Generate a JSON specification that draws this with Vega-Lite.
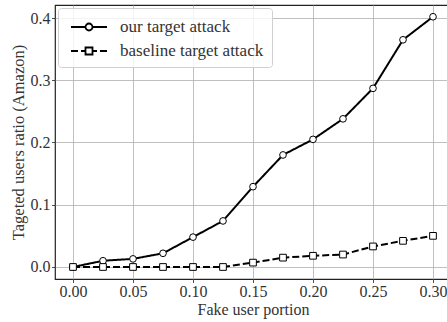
{
  "$schema": "https://vega.github.io/schema/vega-lite/v6.json",
  "autosize": "none",
  "width": 396,
  "height": 274,
  "padding": {"left": 55, "top": 5, "right": 0, "bottom": 43},
  "background": "white",
  "config": {
    "view": {"stroke": "#222", "strokeWidth": 1.2},
    "font": "Liberation Serif",
    "axis": {
      "labelFont": "Liberation Serif",
      "titleFont": "Liberation Serif",
      "labelFontSize": 16,
      "titleFontSize": 16.5,
      "titleFontWeight": "normal",
      "labelColor": "#333",
      "titleColor": "#333",
      "gridColor": "#b0b0b0",
      "gridWidth": 0.8,
      "domain": false,
      "tickColor": "#222",
      "tickSize": 3.5,
      "tickWidth": 0.8
    }
  },
  "data": {
    "values": [
      {"x": 0.0, "y": 0.0, "series": "our target attack"},
      {"x": 0.025, "y": 0.010, "series": "our target attack"},
      {"x": 0.05, "y": 0.013, "series": "our target attack"},
      {"x": 0.075, "y": 0.022, "series": "our target attack"},
      {"x": 0.1, "y": 0.048, "series": "our target attack"},
      {"x": 0.125, "y": 0.074, "series": "our target attack"},
      {"x": 0.15, "y": 0.129, "series": "our target attack"},
      {"x": 0.175, "y": 0.180, "series": "our target attack"},
      {"x": 0.2, "y": 0.205, "series": "our target attack"},
      {"x": 0.225, "y": 0.238, "series": "our target attack"},
      {"x": 0.25, "y": 0.287, "series": "our target attack"},
      {"x": 0.275, "y": 0.365, "series": "our target attack"},
      {"x": 0.3, "y": 0.402, "series": "our target attack"},
      {"x": 0.0, "y": 0.0, "series": "baseline target attack"},
      {"x": 0.025, "y": 0.0, "series": "baseline target attack"},
      {"x": 0.05, "y": 0.0, "series": "baseline target attack"},
      {"x": 0.075, "y": 0.0, "series": "baseline target attack"},
      {"x": 0.1, "y": 0.0, "series": "baseline target attack"},
      {"x": 0.125, "y": 0.0, "series": "baseline target attack"},
      {"x": 0.15, "y": 0.007, "series": "baseline target attack"},
      {"x": 0.175, "y": 0.015, "series": "baseline target attack"},
      {"x": 0.2, "y": 0.018, "series": "baseline target attack"},
      {"x": 0.225, "y": 0.020, "series": "baseline target attack"},
      {"x": 0.25, "y": 0.033, "series": "baseline target attack"},
      {"x": 0.275, "y": 0.042, "series": "baseline target attack"},
      {"x": 0.3, "y": 0.050, "series": "baseline target attack"}
    ]
  },
  "encoding": {
    "x": {
      "field": "x", "type": "quantitative",
      "scale": {"domain": [-0.015, 0.315], "nice": false, "zero": false},
      "axis": {"values": [0, 0.05, 0.1, 0.15, 0.2, 0.25, 0.3], "format": ".2f", "title": "Fake user portion", "labelPadding": 1, "titlePadding": 2, "titleFontSize": 16}
    },
    "y": {
      "field": "y", "type": "quantitative",
      "scale": {"domain": [-0.0193, 0.4209], "nice": false, "zero": false},
      "axis": {"values": [0, 0.1, 0.2, 0.3, 0.4], "format": ".1f", "title": "Tageted users ratio (Amazon)", "labelPadding": 1.5, "titlePadding": 4}
    }
  },
  "layer": [
    {
      "mark": {"type": "line", "color": "black", "strokeWidth": 2},
      "encoding": {
        "strokeDash": {
          "field": "series", "type": "nominal",
          "scale": {"domain": ["our target attack", "baseline target attack"], "range": [[1, 0], [7, 3]]},
          "legend": null
        }
      }
    },
    {
      "mark": {"type": "point", "filled": true, "fill": "white", "stroke": "black", "strokeWidth": 1, "size": 45, "opacity": 1},
      "encoding": {
        "shape": {
          "field": "series", "type": "nominal",
          "scale": {"domain": ["our target attack", "baseline target attack"], "range": ["circle", "square"]},
          "legend": null
        }
      }
    },
    {
      "transform": [{"filter": "datum.x > 1"}],
      "mark": {"type": "point", "filled": false, "color": "black", "strokeWidth": 1.8, "size": 400, "opacity": 1},
      "encoding": {
        "shape": {
          "field": "series", "type": "nominal",
          "scale": {"domain": ["our target attack", "baseline target attack"], "range": [
            "M-1.8,0H-0.35M0.35,0H1.8M-0.35,0A0.35,0.35,0,1,0,0.35,0A0.35,0.35,0,1,0,-0.35,0Z",
            "M-1.8,0H-1.1M-0.8,0H-0.35M0.35,0H0.8M1.1,0H1.8M-0.35,-0.35H0.35V0.35H-0.35Z"
          ]},
          "legend": {
            "title": null,
            "orient": "top-left",
            "offset": 3,
            "padding": 8,
            "fillColor": "rgba(255,255,255,0.8)",
            "strokeColor": "#d0d0d0",
            "cornerRadius": 3,
            "labelFont": "Liberation Serif",
            "labelFontSize": 17,
            "labelColor": "#333",
            "labelOffset": 20,
            "symbolOffset": 12,
            "rowPadding": 5,
            "symbolSize": 400,
            "symbolOpacity": 1,
            "symbolStrokeColor": "black",
            "symbolStrokeWidth": 1.8,
            "encode": {
              "symbols": {
                "update": {
                  "stroke": {"value": "black"},
                  "fill": {"value": "white"},
                  "opacity": {"value": 1},
                  "strokeWidth": {"value": 1.8}
                }
              }
            }
          }
        }
      }
    }
  ],
  "resolve": {"scale": {"shape": "independent", "strokeDash": "independent"}}
}
